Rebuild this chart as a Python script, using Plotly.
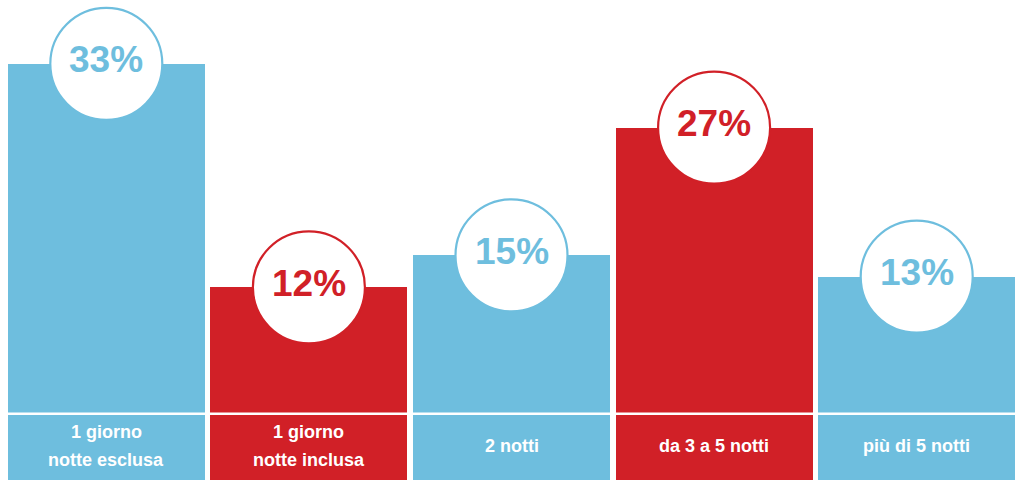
import plotly.graph_objects as go

categories = ["1 giorno<br>notte esclusa", "1 giorno<br>notte inclusa", "2 notti",
              "da 3 a 5 notti", "più di 5 notti"]
values = [33, 12, 15, 27, 13]
value_labels = ["33%", "12%", "15%", "27%", "13%"]

BLUE = "#6EBEDE"
RED = "#D12027"
colors = [BLUE, RED, BLUE, RED, BLUE]
FONT = "Liberation Sans Narrow, Arial Narrow, Liberation Sans, Arial, sans-serif"

xs = list(range(len(values)))
H = 496
PLOT_H = 480
LABEL_FRAC = 65 / PLOT_H

fig = go.Figure()
fig.add_trace(go.Bar(x=xs, y=values, marker=dict(color=colors, line_width=0),
                     width=0.972, yaxis="y", hoverinfo="skip", showlegend=False))
fig.add_trace(go.Bar(x=xs, y=[1] * len(xs), marker=dict(color=colors, line_width=0),
                     width=0.972, yaxis="y2", hoverinfo="skip", showlegend=False))
fig.add_trace(go.Scatter(x=xs, y=values, mode="markers", yaxis="y", cliponaxis=False,
                         marker=dict(size=112, color="white",
                                     line=dict(color=colors, width=2.2)),
                         hoverinfo="skip", showlegend=False))

annotations = []
for x, v, t, c in zip(xs, values, value_labels, colors):
    annotations.append(dict(x=x, y=v, xref="x", yref="y", text="<b>%s</b>" % t,
                            showarrow=False, yshift=4,
                            font=dict(family=FONT, size=37, color=c)))
for x, cat in zip(xs, categories):
    lines = cat.split("<br>")
    n = len(lines)
    for i, line in enumerate(lines):
        shift = ((n - 1) / 2 - i) * 28 + 2
        annotations.append(dict(x=x, y=0.5, xref="x", yref="y2", text="<b>%s</b>" % line,
                                showarrow=False, yshift=shift,
                                font=dict(family=FONT, size=18, color="white")))

fig.update_layout(
    width=1024, height=H,
    margin=dict(l=5, r=6, t=0, b=16, pad=0),
    paper_bgcolor="white", plot_bgcolor="white",
    bargap=0,
    xaxis=dict(range=[-0.5, 4.5], visible=False, fixedrange=True),
    yaxis=dict(domain=[LABEL_FRAC, 1], range=[0, 39.0], visible=False, fixedrange=True),
    yaxis2=dict(domain=[0, LABEL_FRAC], range=[0, 1], visible=False, fixedrange=True),
    annotations=annotations,
    shapes=[dict(type="line", xref="paper", yref="paper", x0=0, x1=1,
                 y0=(PLOT_H - 413.8) / PLOT_H, y1=(PLOT_H - 413.8) / PLOT_H,
                 line=dict(color="white", width=2.6), layer="above")],
)

fig.write_html("out.html")
